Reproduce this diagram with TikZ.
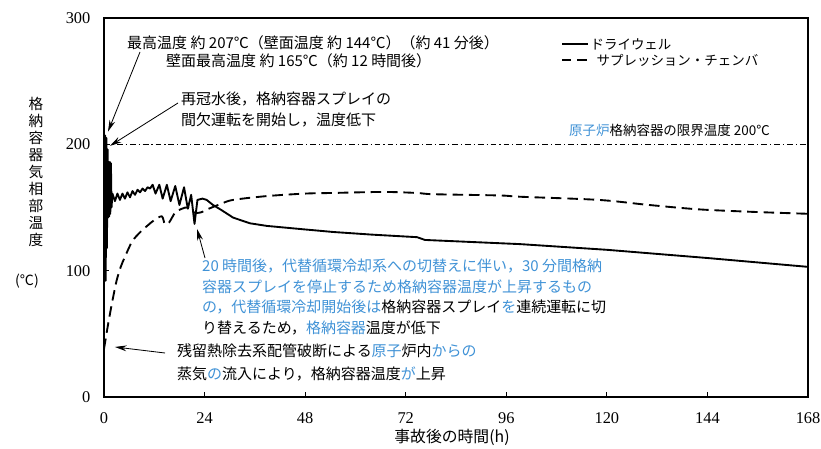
\documentclass[tikz,border=0pt]{standalone}
\usepackage{fontspec}
\setmainfont{Liberation Serif}
\newfontfamily\jpfont{Noto Sans CJK JP}
\usetikzlibrary{arrows.meta,positioning}
\definecolor{noteblue}{RGB}{64,146,214}
\newcommand{\bl}[1]{\textcolor{noteblue}{#1}}
\tikzset{
	note/.style={font=\jpfont\fontsize{12.8}{17.5}\selectfont, align=left, inner sep=0pt, anchor=north west},
	legend/.style={font=\jpfont\fontsize{11.5}{14}\selectfont, inner sep=0pt},
	ticklabel/.style={font=\fontsize{14}{16}\selectfont, inner sep=0pt},
	pointer/.style={-{Stealth[length=10pt,width=5pt]}, line width=0.7pt},
	curve/.style={line width=1.6pt, line join=round},
	limitline/.style={line width=0.5pt, dash pattern=on 5pt off 2.5pt on 1pt off 2.5pt},
}
\begin{document}
\begin{tikzpicture}[x=0.03cm, y=0.03cm]
	\useasboundingbox (-104,-51) rectangle (717,397);
	\begin{scope}[x=0.125714cm, y=0.0379cm]
		\draw[limitline] (0,200) -- (168,200);
		\foreach \t in {24,48,...,144} \draw[line width=0.8pt] (\t,0) -- (\t,4);
		\foreach \T in {100,200} \draw[line width=0.8pt] (0,\T) -- (1.2,\T);
		\foreach \t in {0,24,...,168} \node[ticklabel] (xl\t) at (\t,-16.6) {\t};
		\foreach \T in {0,100,200,300} \node[ticklabel, anchor=east] (yl\T) at (-3.2,\T) {\T};

		\draw[curve] plot coordinates {(0,88) (0.3,207) (0.4,92) (0.6,205) (0.7,118) (0.85,196) (1.0,142) (1.1,186)
			(1.25,143) (1.4,186) (1.5,145) (1.65,185) (1.8,150) (2.0,161) (2.6,155) (3.2,161) (3.8,156) (4.4,161)
			(5.0,157) (5.6,162) (6.2,158) (6.8,163) (7.4,160) (8.0,164) (8.6,162) (9.2,165) (9.8,163) (10.4,166)
			(11.0,165) (11.6,168) (12.3,161) (13.2,168) (14.0,157) (15.0,168) (15.9,155) (17.0,167) (18.0,152)
			(19.1,166) (20.0,149) (20.8,160) (21.6,137) (22.3,156) (23.5,157) (24.5,156) (26,152) (28,148)
			(30.8,142) (34.8,137.5) (38.9,135.4) (48,132.6) (54.7,130.6) (64,128.5) (74.7,126.5) (76.6,124.3)
			(99.3,121) (120,116.5) (144,110) (168,103)};
		\draw[curve, dash pattern=on 9pt off 5pt] plot[smooth, tension=0.5] coordinates {(0,38) (1,58) (2,76)
			(3,92) (4,103) (5,111) (6.7,123) (8.5,130) (10.5,136) (12,140) (13.8,143) (14.5,137)
			(15.5,138) (17,146) (18.6,149) (20,150) (21.5,146) (23,146) (25,149) (28,153) (30.8,156) (38.8,159)
			(48,161) (54.7,161.5) (66.6,162.3) (74.6,161.5) (78.6,160.5) (94.5,159.5) (99.3,158.5) (118,156)
			(130,152) (142,148.5) (155,146.5) (168,145)};
		\draw[line width=1.2pt] (0,0) rectangle (168,300);

		\coordinate (peaktip) at (0.95,210);
		\coordinate (refloodtip) at (1.4,198.7);
		\coordinate (dwtip) at (22.2,133);
		\coordinate (sctip) at (2.6,39.6);
	\end{scope}

	\node[ticklabel, font=\jpfont\fontsize{13.5}{16}\selectfont] (xtitle) at (348,-40) {事故後の時間(h)};
	\node[note, anchor=center, align=center, font=\jpfont\fontsize{12.5}{14.5}\selectfont] (ytitle) at (-68,225) {格\\納\\容\\器\\気\\相\\部\\温\\度};
	\node[note, anchor=center, font=\jpfont\fontsize{12}{14}\selectfont] (yunit) at (-77,116) {(℃)};

	\node[note, anchor=west] (maxtemp) at (23,354) {最高温度 約 207℃（壁面温度 約 144℃）（約 41 分後）};
	\node[note, anchor=west] (wallmax) at (62,336) {壁面最高温度 約 165℃（約 12 時間後）};
	\node[note] (reflood) at (77,305) {再冠水後，格納容器スプレイの\\間欠運転を開始し，温度低下};
	\node[note] (spraynote) at (98,138) {\bl{20 時間後，代替循環冷却系への切替えに伴い，30 分間格納}\\
		\bl{容器スプレイを停止するため格納容器温度が上昇するもの}\\
		\bl{の，代替循環冷却開始後は}格納容器スプレイ\bl{を}連続運転に切\\
		り替えるため，\bl{格納容器}温度が低下};
	\node[note, font=\jpfont\fontsize{12.8}{19.5}\selectfont] (resnote) at (73,53) {残留熱除去系配管破断による\bl{原子}炉内\bl{からの}\\
		蒸気\bl{の}流入により，格納容器温度\bl{が}上昇};
	\node[legend, anchor=east] (limitlabel) at (666,267) {\bl{原子炉}格納容器の限界温度 200℃};

	\draw[pointer] ([shift={(13,-9)}]maxtemp.west) -- (peaktip);
	\draw[pointer] ([shift={(-3,-11)}]reflood.north west) -- (refloodtip);
	\draw[pointer] ([shift={(3,1)}]spraynote.north west) -- (dwtip);
	\draw[pointer] ([shift={(-12,-9)}]resnote.north west) -- (sctip);

	\coordinate (dwstart) at (458,353);
	\coordinate (dwstop) at (484,353);
	\draw[curve] (dwstart) -- (dwstop);
	\node[legend, right=2pt of dwstop] (dwlabel) {ドライウェル};
	\coordinate (scstart) at (458,337);
	\coordinate (scstop) at (483,337);
	\draw[curve, dash pattern=on 8pt off 5pt] (scstart) -- (scstop);
	\node[legend, right=8pt of scstop] (sclabel) {サプレッション・チェンバ};
\end{tikzpicture}
\end{document}
